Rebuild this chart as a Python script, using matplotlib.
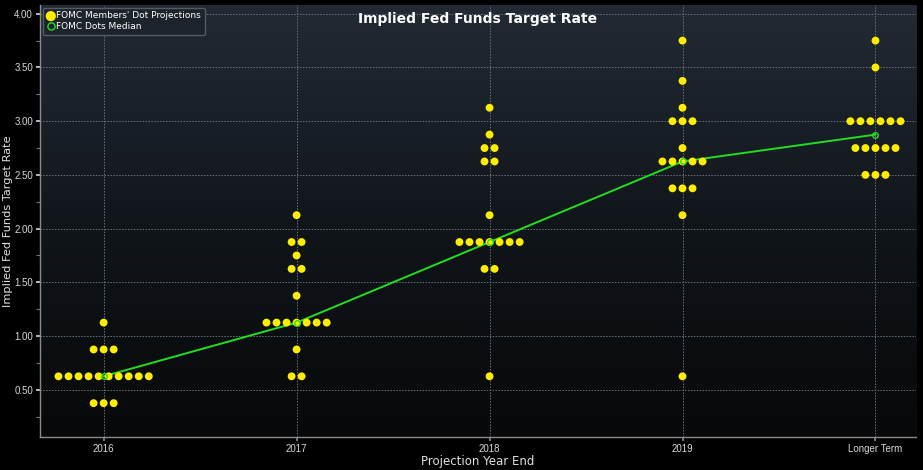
import numpy as np
import matplotlib
matplotlib.use("Agg")
import matplotlib.pyplot as plt
from matplotlib.colors import LinearSegmentedColormap

categories = ["2016", "2017", "2018", "2019", "Longer Term"]

# Dot projections per category: (rate, number of participants)
dots_2016 = [(1.125, 1), (0.875, 3), (0.625, 10), (0.375, 3)]
dots_2017 = [(2.125, 1), (1.875, 2), (1.75, 1), (1.625, 2), (1.375, 1),
             (1.125, 7), (0.875, 1), (0.625, 2)]
dots_2018 = [(3.125, 1), (2.875, 1), (2.75, 2), (2.625, 2), (2.125, 1),
             (1.875, 7), (1.625, 2), (0.625, 1)]
dots_2019 = [(3.75, 1), (3.375, 1), (3.125, 1), (3.0, 3), (2.75, 1),
             (2.625, 5), (2.375, 3), (2.125, 1), (0.625, 1)]
dots_longer = [(3.75, 1), (3.5, 1), (3.0, 6), (2.75, 5), (2.5, 3)]
all_dots = [dots_2016, dots_2017, dots_2018, dots_2019, dots_longer]

median_values = [0.625, 1.125, 1.875, 2.625, 2.875]

y_ticks = [0.5, 1.0, 1.5, 2.0, 2.5, 3.0, 3.5, 4.0]

fig = plt.figure(figsize=(9.23, 4.70), dpi=100, facecolor="black")
ax = fig.add_axes([0.0433, 0.0702, 0.9491, 0.9188])
ax.set_facecolor("black")

xlim = (-0.33, 4.21)
ylim = (0.06, 4.08)

# gradient background
cmap = LinearSegmentedColormap.from_list("bg", ["#070809", "#11161b", "#222a34"])
grad = np.linspace(0, 1, 256).reshape(-1, 1)
ax.imshow(grad, aspect="auto", cmap=cmap, origin="lower",
          extent=[xlim[0], xlim[1], ylim[0], ylim[1]], zorder=0)

ax.set_xlim(*xlim)
ax.set_ylim(*ylim)

spacing = 0.052
xs, ys = [], []
for i, col in enumerate(all_dots):
    for rate, n in col:
        offs = (np.arange(n) - (n - 1) / 2.0) * spacing
        xs.extend(i + offs)
        ys.extend([rate] * n)

x_pos = np.arange(len(categories))
ax.plot(x_pos, median_values, color="#22dd22", lw=1.4, zorder=3)
ax.scatter(xs, ys, s=32, color="#ffee00", edgecolors="none", zorder=4,
           label="FOMC Members' Dot Projections")
ax.plot(x_pos, median_values, linestyle="none", marker="o", markersize=4,
        markerfacecolor="none", markeredgecolor="#22dd22", markeredgewidth=1,
        zorder=5, label="FOMC Dots Median")

ax.set_xticks(x_pos)
ax.set_xticklabels(categories)
ax.set_yticks(y_ticks)
ax.set_yticklabels([f"{v:.2f}" for v in y_ticks])
ax.set_yticks(np.arange(0.25, 4.01, 0.25), minor=True)

ax.grid(True, which="major", color="#6a717a", linestyle=(0, (1.5, 1.5)), lw=0.7, zorder=1)
ax.set_axisbelow(True)

ax.tick_params(axis="both", which="major", colors="#d8d8d8", labelsize=7,
               length=3, width=1.2, direction="out", pad=2)
ax.tick_params(axis="y", which="minor", colors="#777777", length=3, width=0.8)
ax.tick_params(axis="x", which="major", color="#888888")
for lbl in ax.get_yticklabels() + ax.get_xticklabels():
    lbl.set_fontfamily("Liberation Sans")

for s in ["top", "right"]:
    ax.spines[s].set_visible(False)
for s in ["left", "bottom"]:
    ax.spines[s].set_color("#8a8a8a")
    ax.spines[s].set_linewidth(1.0)

ax.set_ylabel("Implied Fed Funds Target Rate", color="#e0e0e0", fontsize=8.2)
ax.yaxis.set_label_coords(-0.031, 0.5)
ax.set_xlabel("Projection Year End", color="#e0e0e0", fontsize=8.5, labelpad=1)

ax.text(0.5, 0.985, "Implied Fed Funds Target Rate", transform=ax.transAxes,
        ha="center", va="top", color="white", fontsize=10, fontweight="bold")

leg = ax.legend(loc="upper left", fontsize=6.5, frameon=True, facecolor="#1c232b",
                edgecolor="#555b62", labelcolor="white", handletextpad=0.1,
                borderpad=0.4, labelspacing=0.2, handlelength=1.0,
                markerscale=1.3, borderaxespad=0.3)
leg.get_frame().set_alpha(1.0)

fig.savefig("out.png", dpi=100, facecolor="black")
